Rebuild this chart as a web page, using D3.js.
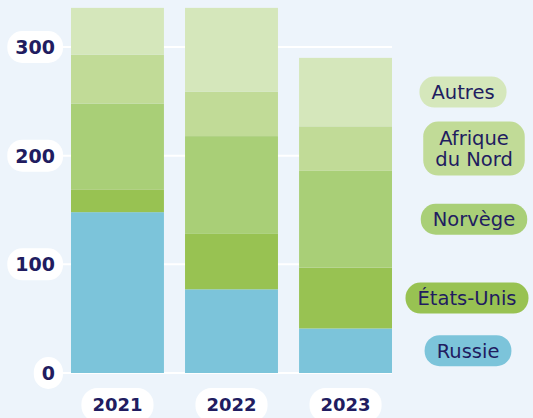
<!DOCTYPE html>
<html>
<head>
<meta charset="utf-8">
<script src="https://cdn.jsdelivr.net/npm/d3@7"></script>
<style>
  html, body { margin: 0; padding: 0; background: #edf4fb; }
  svg { display: block; }
</style>
</head>
<body>
<div id="chart"></div>
<script>
// ── Données ───────────────────────────────────────────
const years     = ["2021", "2022", "2023"];
const russie    = [148, 77, 41];
const etatsUnis = [21, 51, 56];
const norvege   = [79, 90, 89];
const afrique   = [45, 41, 41];
const autres    = [43, 77, 63];
const yTicks    = [0, 100, 200, 300];

const series = [
  { key: "Russie",          lines: ["Russie"],             values: russie,    color: "#7cc4da", cx: 468 },
  { key: "États-Unis",      lines: ["États-Unis"],         values: etatsUnis, color: "#98c252", cx: 467 },
  { key: "Norvège",         lines: ["Norvège"],            values: norvege,   color: "#a9cf77", cx: 474 },
  { key: "Afrique du Nord", lines: ["Afrique", "du Nord"], values: afrique,   color: "#c1db97", cx: 474 },
  { key: "Autres",          lines: ["Autres"],             values: autres,    color: "#d5e7bb", cx: 463 },
];

const W = 533, H = 418;
const NAVY = "#211c60";
const FONT = "'DejaVu Sans', sans-serif";

const svg = d3.select("#chart").append("svg")
  .attr("width", W).attr("height", H)
  .style("font-family", FONT);

const x = d3.scaleBand().domain(years).range([71, 392]).paddingInner(0.185).paddingOuter(0);
const y = d3.scaleLinear().domain([0, 300]).range([373, 47]);

// table pour d3.stack
const table = years.map((yr, i) => {
  const row = { year: yr };
  series.forEach(s => row[s.key] = s.values[i]);
  return row;
});
const stacked = d3.stack().keys(series.map(s => s.key))(table);

// ── grille ──
svg.append("g").selectAll("line").data(yTicks).join("line")
  .attr("x1", 40).attr("x2", 392)
  .attr("y1", d => y(d)).attr("y2", d => y(d))
  .attr("stroke", "#ffffff").attr("stroke-width", 2);

// ── barres ──
const barG = svg.append("g");
stacked.forEach((layer, li) => {
  barG.append("g").attr("fill", series[li].color)
    .selectAll("rect").data(layer).join("rect")
    .attr("x", d => x(d.data.year))
    .attr("width", x.bandwidth())
    .attr("y", d => y(d[1]))
    .attr("height", d => y(d[0]) - y(d[1]));
});

// ── étiquettes axe Y (pastilles) ──
const yAxisG = svg.append("g");
yTicks.forEach(t => {
  const g = yAxisG.append("g").attr("transform", `translate(63,${y(t)})`);
  const rect = g.append("rect").attr("fill", "#fff");
  const txt = g.append("text")
    .attr("text-anchor", "middle").attr("dy", "0.36em")
    .attr("font-size", 19).attr("font-weight", "bold")
    .attr("fill", NAVY).text(t);
  const tw = txt.node().getComputedTextLength();
  const pw = Math.max(tw + 16, 27);
  txt.attr("x", -pw / 2);
  rect.attr("x", -pw).attr("y", -16).attr("width", pw).attr("height", 32)
    .attr("rx", 15).attr("ry", 15);
});

// ── étiquettes axe X (pastilles) ──
const xAxisG = svg.append("g");
years.forEach(yr => {
  const cx = x(yr) + x.bandwidth() / 2;
  const g = xAxisG.append("g").attr("transform", `translate(${cx},405)`);
  const rect = g.append("rect").attr("fill", "#fff");
  const txt = g.append("text")
    .attr("text-anchor", "middle").attr("dy", "0.36em")
    .attr("font-size", 18).attr("font-weight", "bold")
    .attr("fill", NAVY).text(yr);
  const tw = txt.node().getComputedTextLength();
  rect.attr("x", -tw / 2 - 11).attr("y", -17).attr("width", tw + 22).attr("height", 34)
    .attr("rx", 16).attr("ry", 16);
});

// ── légende : alignée sur les segments de 2023 ──
const last = years.length - 1;
const legG = svg.append("g");
stacked.forEach((layer, li) => {
  const s = series[li];
  const d = layer[last];
  const cy = (y(d[0]) + y(d[1])) / 2;
  const g = legG.append("g").attr("transform", `translate(${s.cx},${cy})`);
  const rect = g.append("rect").attr("fill", s.color);
  const lh = 21;
  const n = s.lines.length;
  let tw = 0;
  s.lines.forEach((ln, k) => {
    const t = g.append("text")
      .attr("text-anchor", "middle")
      .attr("y", (k - (n - 1) / 2) * lh)
      .attr("dy", "0.36em")
      .attr("font-size", 19.5)
      .attr("fill", NAVY).text(ln);
    tw = Math.max(tw, t.node().getComputedTextLength());
  });
  const ph = n === 1 ? 31 : 54;
  const pw = tw + 24;
  rect.attr("x", -pw / 2).attr("y", -ph / 2).attr("width", pw).attr("height", ph)
    .attr("rx", 15).attr("ry", 15);
});
</script>
</body>
</html>
